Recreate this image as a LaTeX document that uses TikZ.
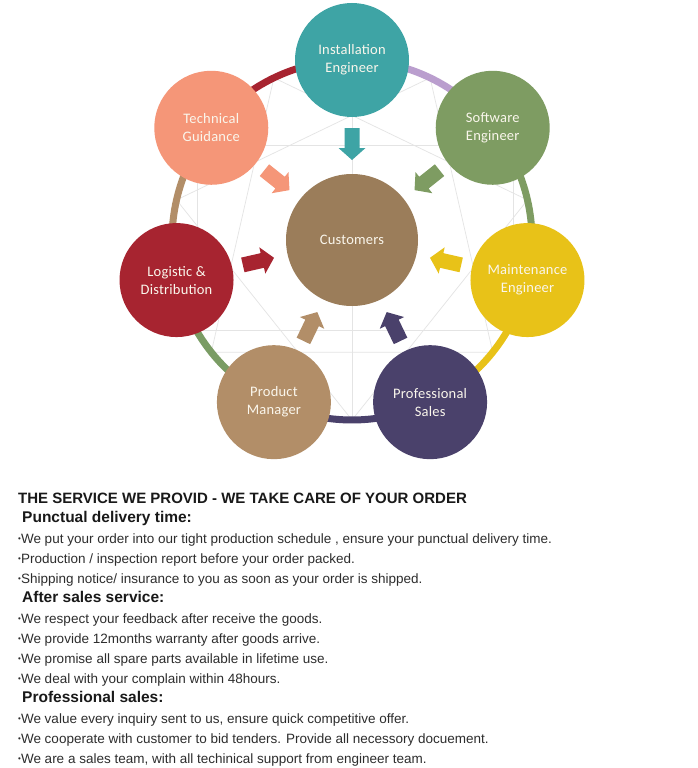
\documentclass[tikz,border=0pt]{standalone}
\usepackage{fontspec}
\usetikzlibrary{calc}
\setmainfont{Liberation Sans}
\newfontfamily\circfont[LetterSpace=1.5]{Carlito}
\definecolor{cInst}{RGB}{62,164,165}
\definecolor{cSoft}{RGB}{126,156,98}
\definecolor{cMaint}{RGB}{232,194,24}
\definecolor{cProf}{RGB}{74,65,107}
\definecolor{cProd}{RGB}{178,142,104}
\definecolor{cLog}{RGB}{167,36,48}
\definecolor{cTech}{RGB}{245,150,120}
\definecolor{cCust}{RGB}{155,125,90}
\definecolor{cLav}{RGB}{186,158,206}
\definecolor{cGreen}{RGB}{122,156,100}
\definecolor{cWeb}{RGB}{228,228,228}
\definecolor{ctxt}{RGB}{250,246,236}
\definecolor{bodytxt}{RGB}{45,45,45}
\newcommand\mybullet{{\fontsize{8}{8}\selectfont\raisebox{1.8pt}{•}}}
\tikzset{
  orb/.style={circle, minimum size=114pt, inner sep=0pt, text=ctxt, align=center,
    font=\circfont\fontsize{14.5}{18}\selectfont},
  hub/.style={orb, minimum size=132pt},
  ringarc/.style={line width=7pt},
  web/.style={draw=cWeb, line width=0.7pt},
  pics/inarrow/.style={code={
    \fill (-16,7.5) -- (4,7.5) -- (4,13.5) -- (16,0) -- (4,-13.5) -- (4,-7.5) -- (-16,-7.5) -- cycle;}},
  headline/.style={anchor=base west, inner sep=0pt, text=black!90,
    font=\bfseries\fontsize{15}{17}\selectfont},
  subhead/.style={anchor=base west, inner sep=0pt, text=black!90,
    font=\bfseries\fontsize{15.5}{17}\selectfont},
  item/.style={anchor=base west, inner sep=0pt, text=bodytxt,
    font=\fontsize{13.5}{17}\selectfont},
}
\begin{document}
\begin{tikzpicture}[x=1pt,y=1pt]
\useasboundingbox (0,0) rectangle (697,-768);
\fill[white] (0,0) rectangle (697,-768);
\coordinate (C) at (352,-240);
% faint background web
\foreach \k in {0,...,6}{
  \pgfmathsetmacro{\aa}{-90+\k*360/7}
  \pgfmathsetmacro{\bb}{-90+(\k+2)*360/7}
  \draw[web] ($(C)+(\aa:180)$) -- ($(C)+(\bb:180)$);
}
\draw[web] (352,-60) -- (352,-420);
\draw[web] (197,-145) -- (513,-145);
\draw[web] (180,-330) -- (525,-330);
\draw[web] (197,-145) -- (197,-330);
\draw[web] (513,-145) -- (513,-330);
% ring arcs
\draw[ringarc, cLav]   (C) ++(90:180) arc[start angle=90, end angle=38.571, radius=180];
\draw[ringarc, cSoft]  (C) ++(38.571:180) arc[start angle=38.571, end angle=-12.857, radius=180];
\draw[ringarc, cMaint] (C) ++(-12.857:180) arc[start angle=-12.857, end angle=-64.286, radius=180];
\draw[ringarc, cProf]  (C) ++(-64.286:180) arc[start angle=-64.286, end angle=-115.714, radius=180];
\draw[ringarc, cGreen] (C) ++(-115.714:180) arc[start angle=-115.714, end angle=-167.143, radius=180];
\draw[ringarc, cProd]  (C) ++(-167.143:180) arc[start angle=-167.143, end angle=-218.571, radius=180];
\draw[ringarc, cLog]   (C) ++(141.429:180) arc[start angle=141.429, end angle=90, radius=180];
% circles
\node[hub, fill=cCust] (cust) at (C) {Customers};
\node[orb, fill=cInst]  (inst) at ($(C)+(90:180)$) {Installation\\Engineer};
\node[orb, fill=cSoft]  (soft) at ($(C)+(38.571:180)$) {Software\\Engineer};
\node[orb, fill=cMaint] (main) at ($(C)+(-12.857:180)$) {Maintenance\\Engineer};
\node[orb, fill=cProf]  (prof) at ($(C)+(-64.286:180)$) {Professional\\Sales};
\node[orb, fill=cProd]  (prod) at ($(C)+(-115.714:180)$) {Product\\Manager};
\node[orb, fill=cLog]   (logi) at ($(C)+(-167.143:180)$) {Logistic \&\\Distribution};
\node[orb, fill=cTech]  (tech) at ($(C)+(141.429:180)$) {Technical\\Guidance};
% block arrows toward the customers
\foreach \ang/\col in {90/cInst, 38.571/cSoft, -12.857/cMaint, -64.286/cProf,
                       -115.714/cProd, -167.143/cLog, 141.429/cTech}{
  \path ($(C)+(\ang:96)$) pic[fill=\col, rotate=\ang+180] {inarrow};
}
% text
\node[headline] (t0) at (18,-503) {THE SERVICE WE PROVID - WE TAKE CARE OF YOUR ORDER};
\node[subhead] (s1) at (22,-522) {Punctual delivery time:};
\node[item] (i1) at (18,-543) {\mybullet We put your order into our tight production schedule , ensure your punctual delivery time.};
\node[item] (i2) at (18,-563) {\mybullet Production / inspection report before your order packed.};
\node[item] (i3) at (18,-583) {\mybullet Shipping notice/ insurance to you as soon as your order is shipped.};
\node[subhead] (s2) at (22,-602) {After sales service:};
\node[item] (i4) at (18,-623) {\mybullet We respect your feedback after receive the goods.};
\node[item] (i5) at (18,-643) {\mybullet We provide 12months warranty after goods arrive.};
\node[item] (i6) at (18,-663) {\mybullet We promise all spare parts available in lifetime use.};
\node[item] (i7) at (18,-683) {\mybullet We deal with your complain within 48hours.};
\node[subhead] (s3) at (22,-702) {Professional sales:};
\node[item] (i8) at (18,-723) {\mybullet We value every inquiry sent to us, ensure quick competitive offer.};
\node[item] (i9) at (18,-743) {\mybullet We cooperate with customer to bid tenders. Provide all necessory docuement.};
\node[item] (i10) at (18,-763) {\mybullet We are a sales team, with all techinical support from engineer team.};
\end{tikzpicture}
\end{document}
